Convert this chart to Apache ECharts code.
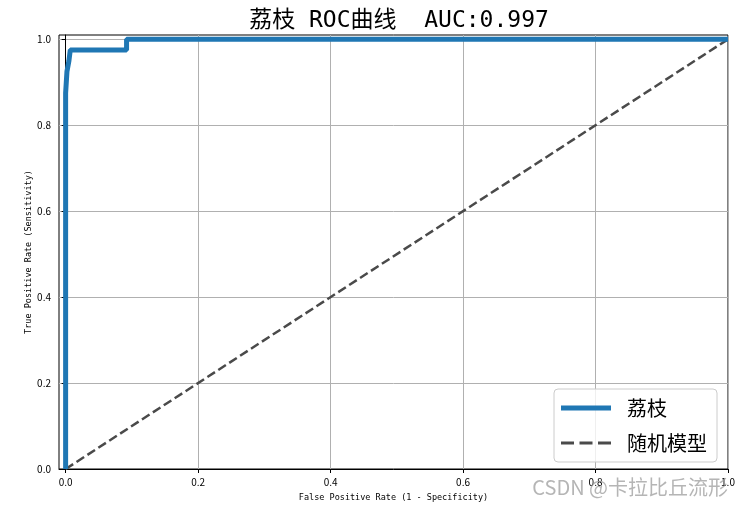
<!DOCTYPE html>
<html>
<head>
<meta charset="utf-8">
<script src="https://cdn.jsdelivr.net/npm/echarts@6/dist/echarts.min.js"></script>
<style>
  html, body { margin: 0; padding: 0; background: #fff; }
  #chart { width: 742px; height: 510px; }
</style>
</head>
<body>
<div id="chart"></div>
<script>
// ROC 曲线的点 (FPR, TPR)
const rocFpr = [0, 0, 0.002, 0.002, 0.005, 0.005, 0.007, 0.007, 0.092, 0.092, 1.0];
const rocTpr = [0, 0.875, 0.875, 0.925, 0.925, 0.95, 0.95, 0.975, 0.975, 1.0, 1.0];
const randomFpr = [0, 1];
const randomTpr = [0, 1];
const tickValues = [0, 0.2, 0.4, 0.6, 0.8, 1.0];
const seriesNames = ['荔枝', '随机模型'];
const titleText = '荔枝 ROC曲线  AUC:0.997';

const font = '"Noto Sans CJK SC", "DejaVu Sans", sans-serif';
const monoFont = '"DejaVu Sans Mono", "Noto Sans CJK SC", monospace';
const chart = echarts.init(document.getElementById('chart'));

const axisCommon = {
  type: 'value',
  axisLine: { show: true, lineStyle: { color: '#000', width: 1 } },
  axisTick: { show: true, customValues: tickValues, length: 4, lineStyle: { color: '#000' } },
  axisLabel: {
    customValues: tickValues,
    fontSize: 10,
    color: '#000',
    fontFamily: font,
    formatter: (v) => v.toFixed(1)
  },
  splitLine: { show: true, lineStyle: { color: '#b0b0b0', width: 1 } },
  nameLocation: 'middle',
  nameMoveOverlap: false,
  nameTextStyle: { fontSize: 8.5, color: '#000', fontFamily: monoFont }
};

const option = {
  animation: false,
  backgroundColor: '#fff',
  title: {
    text: titleText,
    left: 394,
    textAlign: 'center',
    top: 5,
    textStyle: { fontSize: 23, fontWeight: 'normal', color: '#000', fontFamily: monoFont }
  },
  grid: {
    left: 59,
    right: 14,
    top: 35,
    bottom: 41,
    show: true,
    borderColor: '#000',
    borderWidth: 1
  },
  legend: {
    right: 25,
    top: 389,
    orient: 'vertical',
    itemWidth: 50,
    itemHeight: 14,
    itemGap: 15,
    padding: [9, 10, 9, 7],
    backgroundColor: 'rgba(255,255,255,0.8)',
    borderColor: '#cccccc',
    borderWidth: 1,
    borderRadius: 4,
    textStyle: { fontSize: 20, color: '#000', fontFamily: font, padding: [0, 0, 0, 11] },
    data: [
      {
        name: seriesNames[0],
        icon: 'path://M0,0 L50,0 L50,5 L0,5 Z',
        itemStyle: { color: '#1f77b4' }
      },
      {
        name: seriesNames[1],
        icon: 'path://M0,0 L13,0 L13,3 L0,3 Z M18.5,0 L31.5,0 L31.5,3 L18.5,3 Z M37,0 L50,0 L50,3 L37,3 Z',
        itemStyle: { color: '#4a4a4a' }
      }
    ]
  },
  xAxis: Object.assign({}, axisCommon, {
    min: -0.01,
    max: 1.0,
    name: 'False Positive Rate (1 - Specificity)',
    nameGap: 25
  }),
  yAxis: Object.assign({}, axisCommon, {
    min: 0,
    max: 1.01,
    name: 'True Positive Rate (Sensitivity)',
    nameGap: 26
  }),
  series: [
    {
      name: seriesNames[0],
      type: 'line',
      data: rocFpr.map((x, i) => [x, rocTpr[i]]),
      showSymbol: false,
      symbol: 'none',
      lineStyle: { width: 5, color: '#1f77b4' },
      itemStyle: { color: '#1f77b4' },
      z: 3
    },
    {
      name: seriesNames[1],
      type: 'line',
      data: randomFpr.map((x, i) => [x, randomTpr[i]]),
      showSymbol: false,
      symbol: 'none',
      lineStyle: { width: 2.5, type: [9, 4], color: '#4a4a4a' },
      itemStyle: { color: '#4a4a4a' },
      z: 2
    }
  ],
  graphic: [
    {
      type: 'text',
      right: 14,
      top: 477,
      style: {
        text: 'CSDN @卡拉比丘流形',
        fontSize: 20,
        fontFamily: font,
        fill: 'rgba(150,150,150,0.7)'
      },
      z: 100
    }
  ]
};

chart.setOption(option);
</script>
</body>
</html>
